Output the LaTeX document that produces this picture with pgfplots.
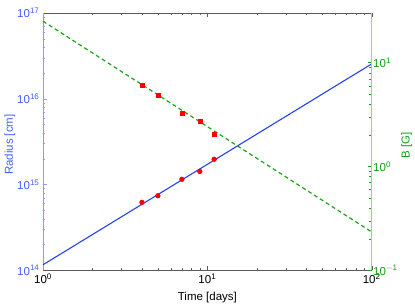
\documentclass[border=0pt]{standalone}
\usepackage{fontspec}
\setmainfont{Liberation Sans}
\usepackage{pgfplots}
\pgfplotsset{compat=1.18}
\definecolor{lineblue}{RGB}{35,65,245}
\definecolor{txtblue}{RGB}{70,95,255}
\definecolor{axblue}{RGB}{140,155,255}
\definecolor{linegreen}{RGB}{25,165,20}
\definecolor{txtgreen}{RGB}{20,160,20}
\definecolor{axgreen}{RGB}{150,215,130}
\definecolor{axgray}{RGB}{90,90,90}
\begin{document}
\begin{tikzpicture}
\pgfplotsset{
  every axis/.append style={
    scale only axis, width=328.7pt, height=257.3pt,
    xmode=log, ymode=log, xmin=1, xmax=100,
    font=\fontsize{11.5}{13}\selectfont,
    major tick length=4pt, minor tick length=2.3pt,
    /pgf/number format/assume math mode=true,
  }
}
\begin{axis}[
  ymin=1e14, ymax=1e17,
  axis x line*=box, axis y line*=left,
  x axis line style={axgray},
  y axis line style={axblue, line width=0.8pt},
  every x tick/.style={axgray},
  every y tick/.style={axblue},
  xtick={1,10,100},
  xticklabels={10\textsuperscript{0},10\textsuperscript{1},10\textsuperscript{2}},
  ytick={1e14,1e15,1e16,1e17},
  yticklabels={10\textsuperscript{14},10\textsuperscript{15},10\textsuperscript{16},10\textsuperscript{17}},
  yticklabel style={txtblue},
  xlabel={Time [days]},
  ylabel={Radius [cm]},
  ylabel style={txtblue, at={(axis description cs:0,0.5)}, anchor=center, yshift=33pt, xshift=-3pt},
  xlabel style={at={(axis description cs:0.5,0)}, anchor=center, yshift=-27pt},
  clip=false,
]
\addplot[lineblue, line width=1.1pt] coordinates {(1,1.16e14) (100,2.55e16)};
\addplot[only marks, mark=*, mark size=2.4pt, color=red] coordinates {
  (4,6.2e14) (5,7.4e14) (7,1.15e15) (9,1.42e15) (11,1.97e15)};
\end{axis}
\begin{axis}[
  ymin=0.1, ymax=30,
  axis x line=none, axis y line*=right,
  y axis line style={axgreen, line width=1.5pt},
  every y tick/.style={txtgreen},
  ytick={0.1,1,10},
  yticklabels={10\textsuperscript{$-$1},10\textsuperscript{0},10\textsuperscript{1}},
  yticklabel style={txtgreen, xshift=-2pt},
  ylabel={B [G]},
  ylabel style={txtgreen, at={(axis description cs:1,0.5)}, anchor=center, yshift=-35pt, xshift=-4pt},
  clip=false,
]
\addplot[linegreen, line width=1.2pt, dash pattern=on 4pt off 3pt] coordinates {(1,25) (100,0.234)};
\addplot[only marks, mark=square*, mark size=2pt, color=red] coordinates {
  (4,6.0) (5,4.83) (7,3.26) (9,2.73) (11,2.06)};
\end{axis}
\pgfresetboundingbox
\path (current axis.south west) ++(-43pt,-35.7pt) coordinate (bl);
\path (current axis.north east) ++(43.3pt,13pt) coordinate (tr);
\useasboundingbox (bl) rectangle (tr);
\end{tikzpicture}
\end{document}
